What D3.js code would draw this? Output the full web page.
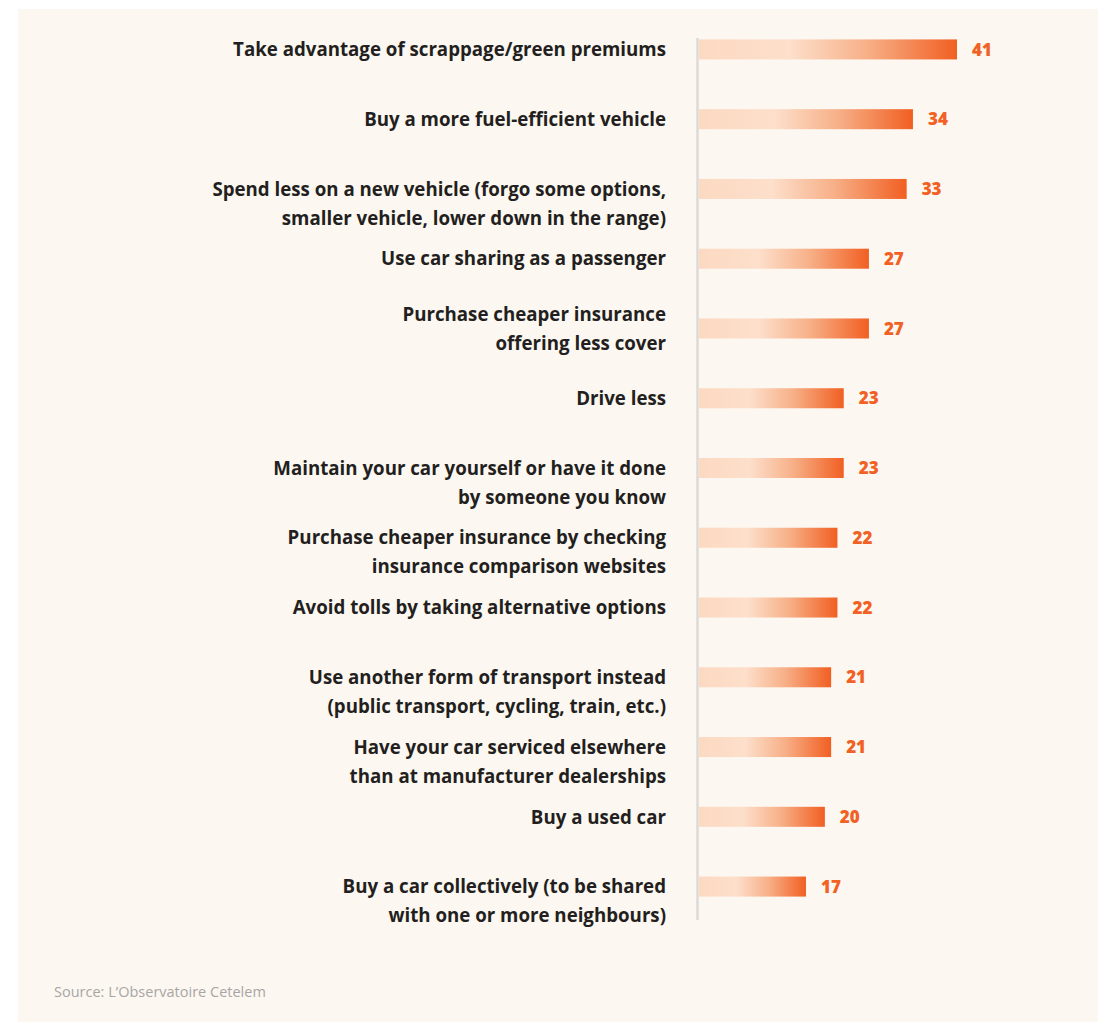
<!DOCTYPE html>
<html><head><meta charset="utf-8">
<script src="https://cdn.jsdelivr.net/npm/d3@7"></script>
<style>html,body{margin:0;padding:0;background:#fff;}</style>
</head><body>
<svg id="chart" width="1098" height="1022"></svg>
<script>
const categories = [
  ["Take advantage of scrappage/green premiums"],
  ["Buy a more fuel-efficient vehicle"],
  ["Spend less on a new vehicle (forgo some options,", "smaller vehicle, lower down in the range)"],
  ["Use car sharing as a passenger"],
  ["Purchase cheaper insurance", "offering less cover"],
  ["Drive less"],
  ["Maintain your car yourself or have it done", "by someone you know"],
  ["Purchase cheaper insurance by checking", "insurance comparison websites"],
  ["Avoid tolls by taking alternative options"],
  ["Use another form of transport instead", "(public transport, cycling, train, etc.)"],
  ["Have your car serviced elsewhere", "than at manufacturer dealerships"],
  ["Buy a used car"],
  ["Buy a car collectively (to be shared", "with one or more neighbours)"]
];
// label block alignment relative to the bar: "top" = first line on bar, "center" = block centred
const labelAlign = ["top","top","top","top","center","top","top","top","top","top","top","top","top"];
const values = [41, 34, 33, 27, 27, 23, 23, 22, 22, 21, 21, 20, 17];
const sourceText = "Source: L\u2019Observatoire Cetelem";

const svg = d3.select("#chart");
svg.append("rect").attr("x", 18).attr("y", 9).attr("width", 1080).attr("height", 1013).attr("fill", "#fcf7f1");

const defs = svg.append("defs");
const grad = defs.append("linearGradient").attr("id", "barGrad").attr("x1", "0%").attr("x2", "100%").attr("y1", "0%").attr("y2", "0%");
grad.append("stop").attr("offset", "0%").attr("stop-color", "#fcd9c1");
grad.append("stop").attr("offset", "35%").attr("stop-color", "#fddfcb");
grad.append("stop").attr("offset", "65%").attr("stop-color", "#f7b088");
grad.append("stop").attr("offset", "100%").attr("stop-color", "#f15f22");

const x0 = 699;
const x = d3.scaleLinear().domain([0, 41]).range([x0, 957]);
const idx = d3.range(values.length);
const y = d3.scaleBand().domain(idx).range([15, 921]).paddingInner(0.713).paddingOuter(0.35);
const lineGap = 29;

svg.append("line").attr("x1", 697.5).attr("x2", 697.5).attr("y1", 38).attr("y2", 920)
  .attr("stroke", "#dcdad7").attr("stroke-width", 2.5);

const g = svg.append("g");
g.selectAll("rect.bar").data(idx).join("rect").attr("class", "bar")
  .attr("x", x0).attr("y", i => y(i)).attr("height", y.bandwidth())
  .attr("width", i => x(values[i]) - x0).attr("fill", "url(#barGrad)");

g.selectAll("text.val").data(idx).join("text").attr("class", "val")
  .attr("x", i => x(values[i]) + 15).attr("y", i => y(i) + y.bandwidth() / 2)
  .attr("dy", "0.36em").attr("fill", "#f26124")
  .style("font-family", "'Open Sans', sans-serif").style("font-weight", "800").style("font-size", "17px")
  .text(i => values[i]);

const labels = g.selectAll("text.lab").data(idx).join("text").attr("class", "lab")
  .attr("x", 666)
  .attr("y", i => y(i) + y.bandwidth() / 2 - (labelAlign[i] === "center" ? (categories[i].length - 1) * lineGap / 2 : 0))
  .attr("text-anchor", "end").attr("fill", "#231f20")
  .style("font-family", "'Open Sans', sans-serif").style("font-weight", "700").style("font-size", "18.7px");
labels.each(function(i) {
  const t = d3.select(this);
  categories[i].forEach((line, k) => {
    t.append("tspan").attr("x", 666).attr("dy", k === 0 ? "0.36em" : lineGap + "px").text(line);
  });
});

svg.append("text").attr("x", 54).attr("y", 997).attr("fill", "#a8a6a4")
  .style("font-family", "'Open Sans', sans-serif").style("font-size", "14.5px").style("font-weight", "400")
  .text(sourceText);
</script>
</body></html>
